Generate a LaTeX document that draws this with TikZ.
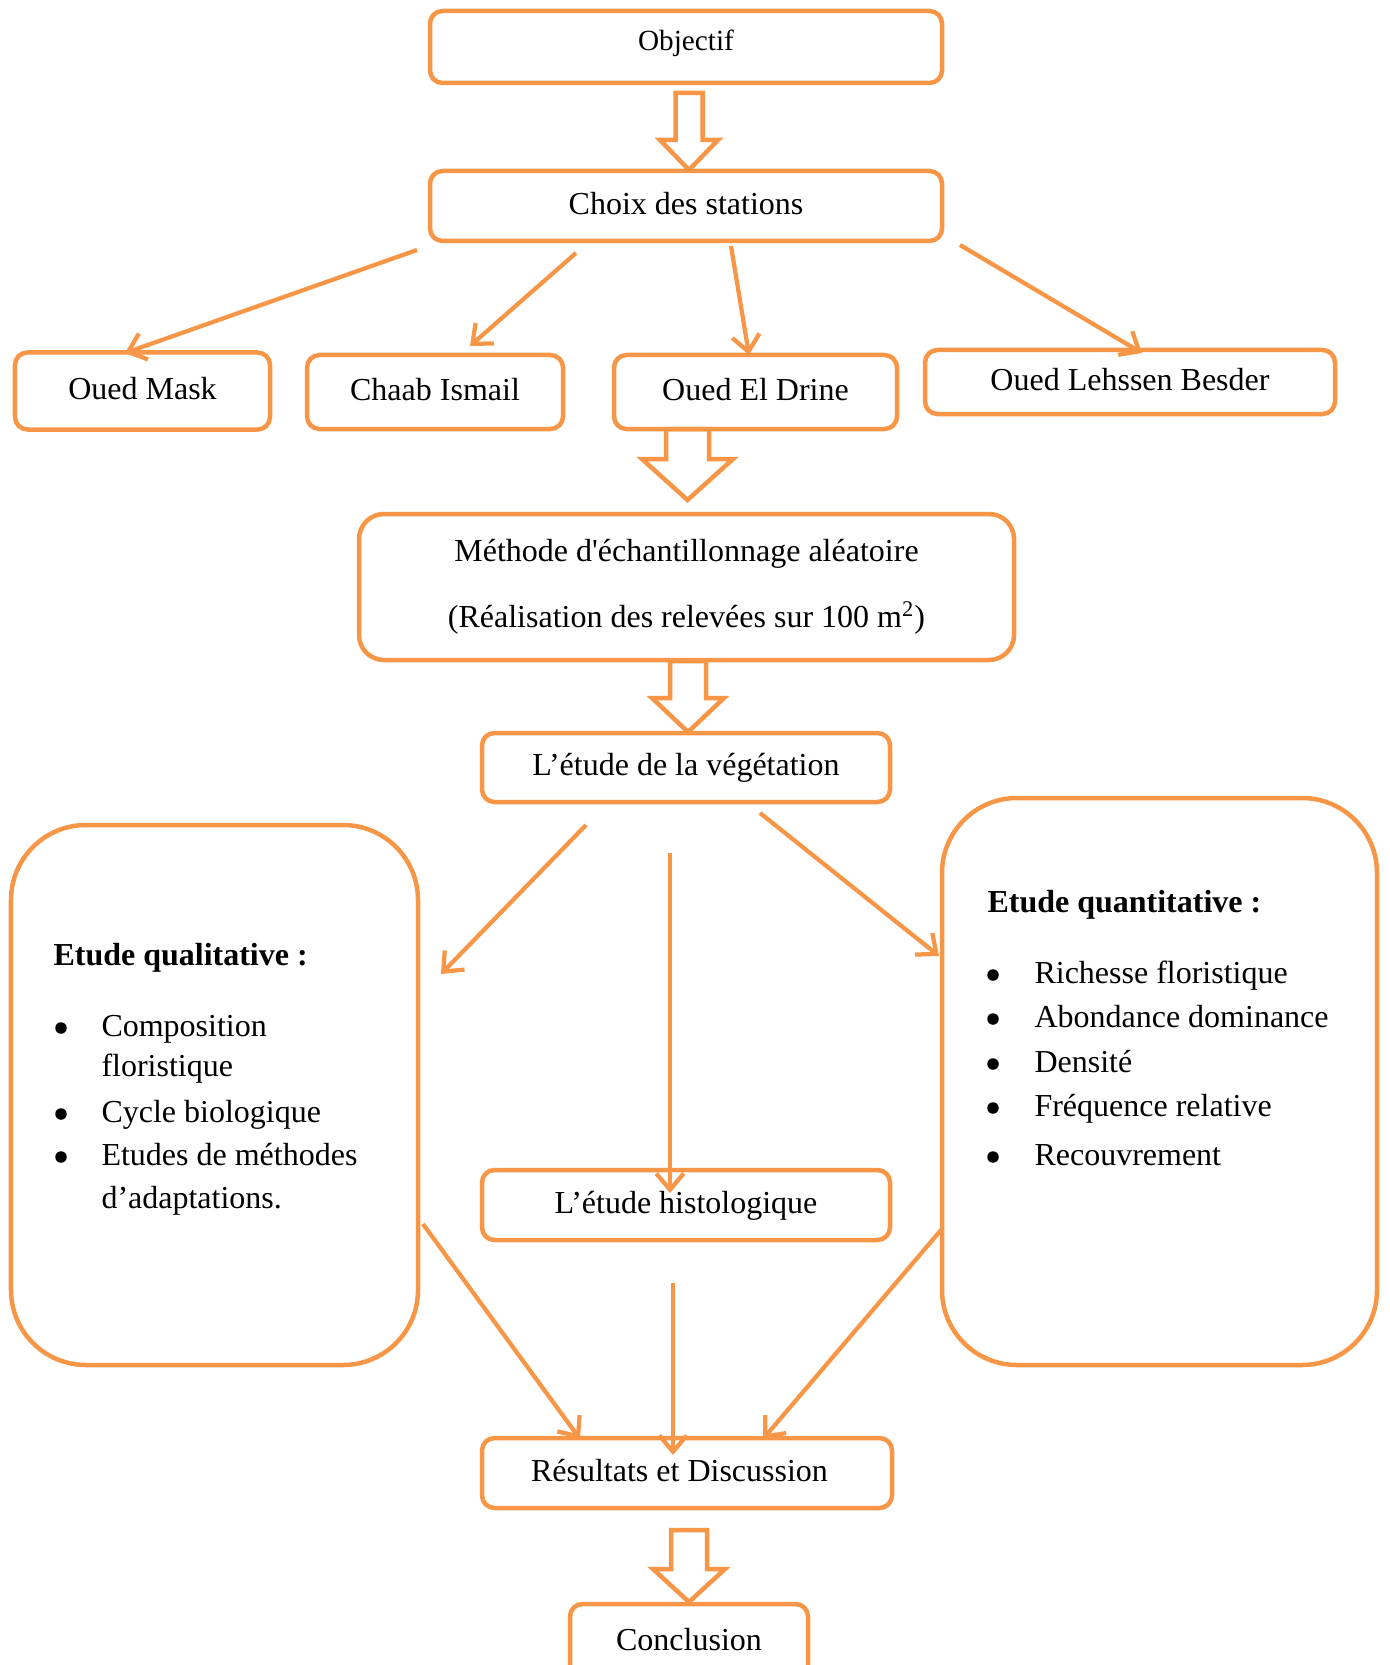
\documentclass[tikz,border=0pt]{standalone}
\usepackage{fontspec}
\setmainfont{Liberation Serif}
\newfontfamily\straightq{Liberation Serif}[Ligatures=TeXOff]
\usetikzlibrary{arrows.meta}
\definecolor{org}{HTML}{F79646}
\newcommand{\blkarr}[6]{%
  \draw[blk] (#1-#5,#2) -- (#1+#5,#2) -- (#1+#5,#3) -- (#1+#6,#3) -- (#1,#4) -- (#1-#6,#3) -- (#1-#5,#3) -- cycle;}
\begin{document}
\begin{tikzpicture}[x=0.4pt,y=-0.4pt,
  box/.style={draw=org, line width=1.8pt, rounded corners=5pt, inner sep=0pt, align=center, font=\fontsize{12.8}{15}\selectfont},
  sbox/.style={box, text height=9pt, text depth=2.5pt},
  big/.style={draw=org, line width=1.8pt, rounded corners=30pt, inner sep=0pt},
  conn/.style={draw=org, line width=1.7pt, -{Straight Barb[length=6.5pt,width=11pt]}},
  blk/.style={draw=org, line width=1.8pt, fill=white, line join=miter},
  txt/.style={anchor=base west, inner sep=0pt, font=\fontsize{12.8}{15}\selectfont},
  bul/.style={circle, fill=black, inner sep=0pt, minimum size=4.6pt}]
\useasboundingbox (0,0) rectangle (1389,1665);
\clip (0,0) rectangle (1389,1665);

% block arrows (drawn first)
\blkarr{689}{93}{140}{170}{13.5}{29}
\blkarr{687.5}{429}{459}{500}{21.5}{45.5}
\blkarr{688}{661}{698}{732}{18}{36}
\blkarr{689}{1530}{1569}{1602}{18}{36}

% boxes
\node[box, text height=8.2pt, text depth=5pt, minimum width=204.8pt, minimum height=28.8pt, font=\fontsize{11.7}{14}\selectfont] (obj) at (686,47) {Objectif};
\node[sbox, minimum width=204.8pt, minimum height=28pt] (choix) at (686,206) {Choix des stations};
\node[sbox, minimum width=102pt, minimum height=30.8pt] (mask) at (142.5,391) {Oued Mask};
\node[sbox, minimum width=102.4pt, minimum height=29.6pt] (chaab) at (435,392) {Chaab Ismail};
\node[sbox, minimum width=113.2pt, minimum height=29.6pt] (drine) at (755.5,392) {Oued El Drine};
\node[sbox, minimum width=164pt, minimum height=25.6pt] (lehssen) at (1130,382) {Oued Lehssen Besder};
\node[box, rounded corners=10pt, minimum width=262pt, minimum height=58.4pt, font=\fontsize{12.8}{26.4}\selectfont] (methode) at (686.5,587)
  {M\'ethode d{\straightq '}\'echantillonnage al\'eatoire\\(R\'ealisation des relev\'ees sur 100 m\textsuperscript{2})};
\node[sbox, minimum width=163.2pt, minimum height=27.6pt] (veg) at (686,767.5) {L’étude de la végétation};
\node[big, minimum width=162.8pt, minimum height=216pt] (qual) at (214.5,1095) {};
\node[big, minimum width=174pt, minimum height=226.8pt] (quant) at (1159.5,1081.5) {};
\node[sbox, minimum width=163.2pt, minimum height=28pt] (histo) at (686,1205) {L’étude histologique};
\node[sbox, minimum width=164pt, minimum height=28pt] (res) at (687,1473) {Résultats et Discussion\hspace{6pt}};
\node[sbox, minimum width=95.2pt, minimum height=30.4pt] (concl) at (689,1642) {Conclusion};

% left list
\node[txt, font=\fontsize{12.8}{15}\selectfont\bfseries] (qt) at (53,965) {Etude qualitative :};
\node[bul] (qb1) at (61,1028) {};
\node[txt] (q1) at (101,1036) {Composition};
\node[txt] (q1b) at (101,1076) {floristique};
\node[bul] (qb2) at (61,1114) {};
\node[txt] (q2) at (101,1122) {Cycle biologique};
\node[bul] (qb3) at (61,1157) {};
\node[txt] (q3) at (101,1165) {Etudes de méthodes};
\node[txt] (q3b) at (101,1208) {d’adaptations.};

% right list
\node[txt, font=\fontsize{12.8}{15}\selectfont\bfseries] (nt) at (987,912) {Etude quantitative :};
\node[bul] (nb1) at (993,975) {};
\node[txt] (n1) at (1034,983) {Richesse floristique};
\node[bul] (nb2) at (993,1019) {};
\node[txt] (n2) at (1034,1027) {Abondance dominance};
\node[bul] (nb3) at (993,1064) {};
\node[txt] (n3) at (1034,1072) {Densité};
\node[bul] (nb4) at (993,1108) {};
\node[txt] (n4) at (1034,1116) {Fréquence relative};
\node[bul] (nb5) at (993,1157) {};
\node[txt] (n5) at (1034,1165) {Recouvrement};

% connector end points
\coordinate (a1s) at (417,250);  \coordinate (a1e) at (125,353);
\coordinate (a2s) at (576,253);  \coordinate (a2e) at (470,346);
\coordinate (a3s) at (731,246);  \coordinate (a3e) at (749,355);
\coordinate (a4s) at (960,245);  \coordinate (a4e) at (1142,353);
\coordinate (b1s) at (586,825);  \coordinate (b1e) at (441,974);
\coordinate (b2s) at (670,853);  \coordinate (b2e) at (670,1193);
\coordinate (b3s) at (760,813);  \coordinate (b3e) at (939,956);
\coordinate (c1s) at (423,1224); \coordinate (c1e) at (580,1439);
\coordinate (c2s) at (673,1283); \coordinate (c2e) at (673,1455);
\coordinate (c3s) at (941,1230); \coordinate (c3e) at (763,1439);

\draw[conn] (a1s) -- (a1e);
\draw[conn] (a2s) -- (a2e);
\draw[conn] (a3s) -- (a3e);
\draw[conn] (a4s) -- (a4e);
\draw[conn] (b1s) -- (b1e);
\draw[conn] (b2s) -- (b2e);
\draw[conn] (b3s) -- (b3e);
\draw[conn] (c1s) -- (c1e);
\draw[conn] (c2s) -- (c2e);
\draw[conn] (c3s) -- (c3e);
\end{tikzpicture}
\end{document}
